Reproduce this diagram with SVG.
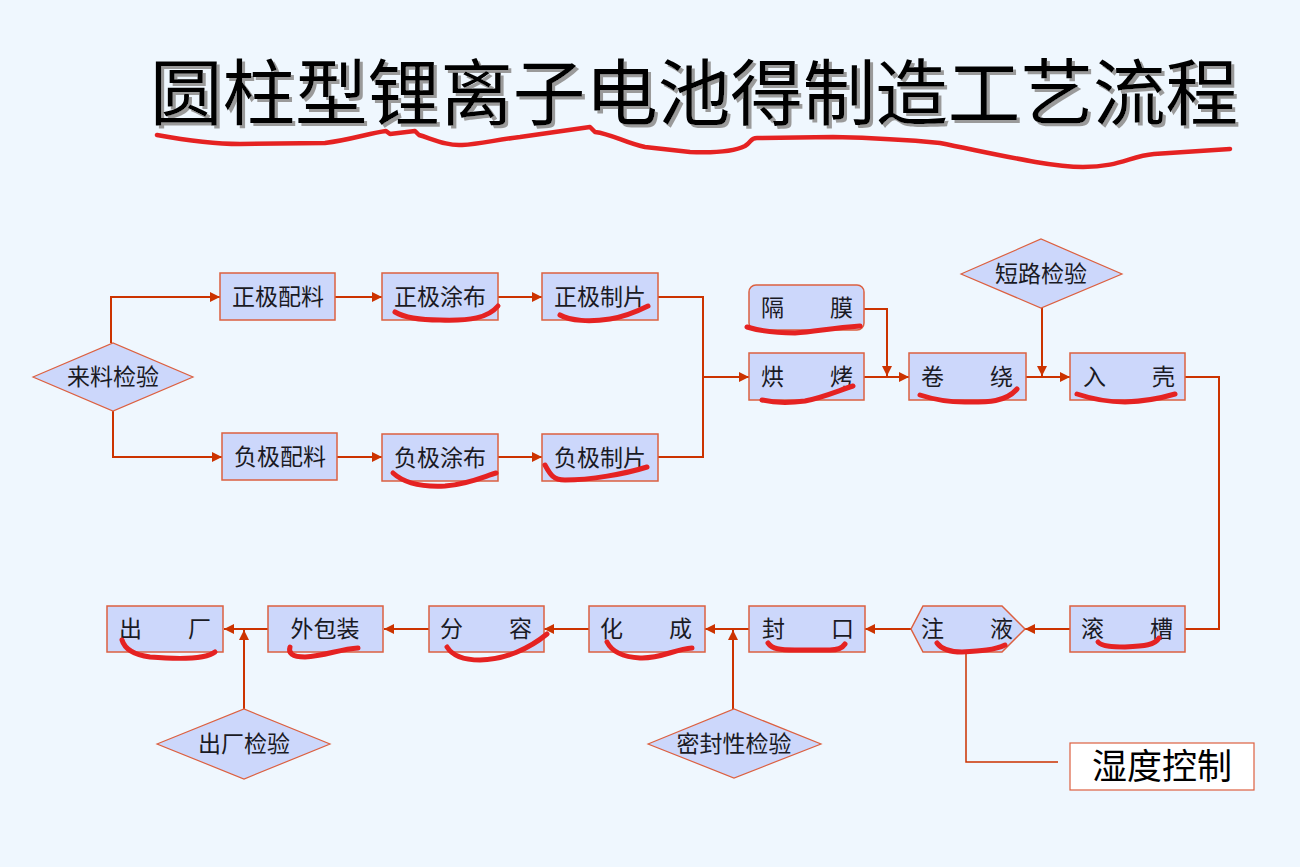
<svg xmlns="http://www.w3.org/2000/svg" width="1300" height="867" viewBox="0 0 1300 867">
<defs>
<style>
.bg{fill:#EFF7FE}
.box{fill:#CCD7FB;stroke:#DC6040;stroke-width:1.5}
.dia{fill:#CCD7FB;stroke:#DC6040;stroke-width:1.2}
.t{font-family:"Noto Sans CJK SC","Noto Sans CJK JP",sans-serif;font-size:23px;fill:#1a1a24;text-anchor:middle}
.c{fill:none;stroke:#CC3300;stroke-width:2}
.mk{fill:none;stroke:#E52222;stroke-width:5;stroke-linecap:round;stroke-linejoin:round}
.title{font-family:"Noto Sans CJK SC","Noto Sans CJK JP",sans-serif;font-size:72px;font-weight:400}
</style>
<filter id="sh" x="-5%" y="-20%" width="110%" height="140%">
<feOffset in="SourceAlpha" dx="3" dy="3" result="o"/>
<feFlood flood-color="#9a9a9a"/>
<feComposite in2="o" operator="in" result="s"/>
<feMerge><feMergeNode in="s"/><feMergeNode in="SourceGraphic"/></feMerge>
</filter>
<marker id="ah" viewBox="0 0 10 10" refX="10" refY="5" markerWidth="10" markerHeight="10" markerUnits="userSpaceOnUse" orient="auto">
<path d="M0,0 L10,5 L0,10 Z" fill="#CC3300"/>
</marker>
</defs>
<rect class="bg" x="0" y="0" width="1300" height="867"/>

<g id="title">
<text class="title" x="150" y="119" fill="#000" filter="url(#sh)" textLength="1088" lengthAdjust="spacingAndGlyphs">圆柱型锂离子电池得制造工艺流程</text>
<path class="mk" style="stroke-width:4.5" d="M157,135 C190,141 215,144 240,144 L325,143 C350,140 370,133 386,131 L390,134 L415,131 L419,135 C435,140 448,146 462,145 C480,144 495,140 520,137 L590,127 L595,132 C612,134 625,143 645,147 L690,152 C715,153 735,151 745,146 C752,142 750,138 757,138 L833,137 C880,138 910,140 940,143 C1000,155 1050,167 1083,167 C1120,167 1130,156 1154,154 L1230,149"/>
</g>

<g id="connectors">
<path class="c" marker-end="url(#ah)" d="M111,343 V297 H220"/>
<path class="c" marker-end="url(#ah)" d="M113,411 V457 H222"/>
<path class="c" marker-end="url(#ah)" d="M335,297 H382"/>
<path class="c" marker-end="url(#ah)" d="M337,457 H382"/>
<path class="c" marker-end="url(#ah)" d="M498,297 H542"/>
<path class="c" marker-end="url(#ah)" d="M498,457 H542"/>
<path class="c" d="M658,297 H703 V457 H658"/>
<path class="c" marker-end="url(#ah)" d="M703,377 H749"/>
<path class="c" marker-end="url(#ah)" d="M864,309 H887 V376"/>
<path class="c" marker-end="url(#ah)" d="M864,377 H909"/>
<path class="c" marker-end="url(#ah)" d="M1042,308 V376"/>
<path class="c" marker-end="url(#ah)" d="M1026,377 H1070"/>
<path class="c" d="M1185,377 H1219 V629 H1185"/>
<path class="c" marker-end="url(#ah)" d="M1070,629 H1025"/>
<path class="c" marker-end="url(#ah)" d="M911,629 H865"/>
<path class="c" marker-end="url(#ah)" d="M749,629 H705"/>
<path class="c" marker-end="url(#ah)" d="M733,709 V630"/>
<path class="c" marker-end="url(#ah)" d="M589,629 H544"/>
<path class="c" marker-end="url(#ah)" d="M429,629 H384"/>
<path class="c" marker-end="url(#ah)" d="M268,629 H224"/>
<path class="c" marker-end="url(#ah)" d="M244,709 V630"/>
<path class="c" style="stroke-width:1.5" d="M966,652 V762 H1058"/>
</g>

<g id="n-laoliao"><polygon class="dia" points="33,377 113,343 193,377 113,411"/><text class="t" x="113" y="385">来料检验</text></g>
<g id="n-zjpl"><rect class="box" x="220" y="273" width="115" height="47"/><text class="t" x="278" y="305">正极配料</text></g>
<g id="n-fjpl"><rect class="box" x="222" y="433" width="115" height="47"/><text class="t" x="280" y="465">负极配料</text></g>
<g id="n-zjtb"><rect class="box" x="382" y="273" width="116" height="47"/><text class="t" x="440" y="305">正极涂布</text></g>
<g id="n-fjtb"><rect class="box" x="382" y="434" width="116" height="47"/><text class="t" x="440" y="466">负极涂布</text></g>
<g id="n-zjzp"><rect class="box" x="542" y="273" width="116" height="47"/><text class="t" x="600" y="305">正极制片</text></g>
<g id="n-fjzp"><rect class="box" x="542" y="434" width="116" height="47"/><text class="t" x="600" y="466">负极制片</text></g>
<g id="n-gemo"><rect class="box" x="749" y="285" width="115" height="45" rx="7"/><text class="t" x="807" y="316">隔　　膜</text></g>
<g id="n-hongkao"><rect class="box" x="749" y="353" width="115" height="47"/><text class="t" x="807" y="385">烘　　烤</text></g>
<g id="n-juanrao"><rect class="box" x="909" y="353" width="117" height="47"/><text class="t" x="967" y="385">卷　　绕</text></g>
<g id="n-duanlu"><polygon class="dia" points="961,274 1041,239 1122,274 1041,308"/><text class="t" x="1041" y="282">短路检验</text></g>
<g id="n-ruke"><rect class="box" x="1070" y="353" width="115" height="47"/><text class="t" x="1129" y="385">入　　壳</text></g>
<g id="n-guncao"><rect class="box" x="1070" y="606" width="115" height="46"/><text class="t" x="1127" y="637">滚　　槽</text></g>
<g id="n-zhuye"><polygon class="box" points="911,629 923,606 1002,606 1025,629 1002,652 923,652"/><text class="t" x="967" y="637">注　　液</text></g>
<g id="n-shidu"><rect x="1070" y="743" width="184" height="47" fill="#fff" stroke="#DC6040" stroke-width="1.2"/><text x="1162" y="779" font-family="'Noto Sans CJK SC',sans-serif" font-size="35" fill="#000" text-anchor="middle">湿度控制</text></g>
<g id="n-fengkou"><rect class="box" x="749" y="606" width="116" height="46"/><text class="t" x="808" y="637">封　　口</text></g>
<g id="n-mifeng"><polygon class="dia" points="648,744 734,709 821,744 734,778"/><text class="t" x="734" y="752">密封性检验</text></g>
<g id="n-huacheng"><rect class="box" x="589" y="606" width="116" height="46"/><text class="t" x="646" y="637">化　　成</text></g>
<g id="n-fenrong"><rect class="box" x="429" y="606" width="115" height="46"/><text class="t" x="486" y="637">分　　容</text></g>
<g id="n-baozhuang"><rect class="box" x="268" y="606" width="115" height="46"/><text class="t" x="325" y="637">外包装</text></g>
<g id="n-chuchang"><rect class="box" x="107" y="606" width="116" height="46"/><text class="t" x="165" y="637">出　　厂</text></g>
<g id="n-ccjy"><polygon class="dia" points="157,744 244,709 330,744 244,779"/><text class="t" x="244" y="752">出厂检验</text></g>

<g id="annotations">
<path class="mk" d="M395,312 C405,318 420,320 440,320 C470,321 488,318 498,306"/>
<path class="mk" d="M560,315 C570,321 590,322 610,319 C628,316 640,310 648,306"/>
<path class="mk" d="M393,473 C405,484 425,487 445,486 C470,484 485,476 496,473"/>
<path class="mk" d="M545,465 C550,474 553,480 565,480 C590,480 625,474 647,467"/>
<path class="mk" d="M747,327 C760,331 775,333 795,333 C815,332 830,328 860,326"/>
<path class="mk" d="M762,400 C775,403 790,403 805,401 C825,397 840,390 853,386"/>
<path class="mk" d="M920,395 C935,400 950,402 965,402 C985,402 1005,403 1017,389"/>
<path class="mk" d="M1077,394 C1095,400 1110,402 1125,402 C1150,401 1165,397 1175,394"/>
<path class="mk" d="M1098,642 C1102,647 1115,647 1125,647 C1145,646 1155,645 1159,638"/>
<path class="mk" d="M937,643 C942,650 950,652 962,652 C980,651 995,650 1005,645"/>
<path class="mk" d="M768,643 C772,649 780,650 795,650 L830,650 C838,650 843,647 845,644"/>
<path class="mk" d="M607,642 C612,652 622,657 640,658 C660,659 675,649 692,648"/>
<path class="mk" d="M447,647 C452,655 462,660 480,660 C505,660 530,648 547,634"/>
<path class="mk" d="M290,647 C288,653 292,657 305,657 C325,656 340,649 358,648"/>
<path class="mk" d="M122,640 C125,650 135,655 150,657 C175,659 205,660 215,652"/>
</g>
</svg>
